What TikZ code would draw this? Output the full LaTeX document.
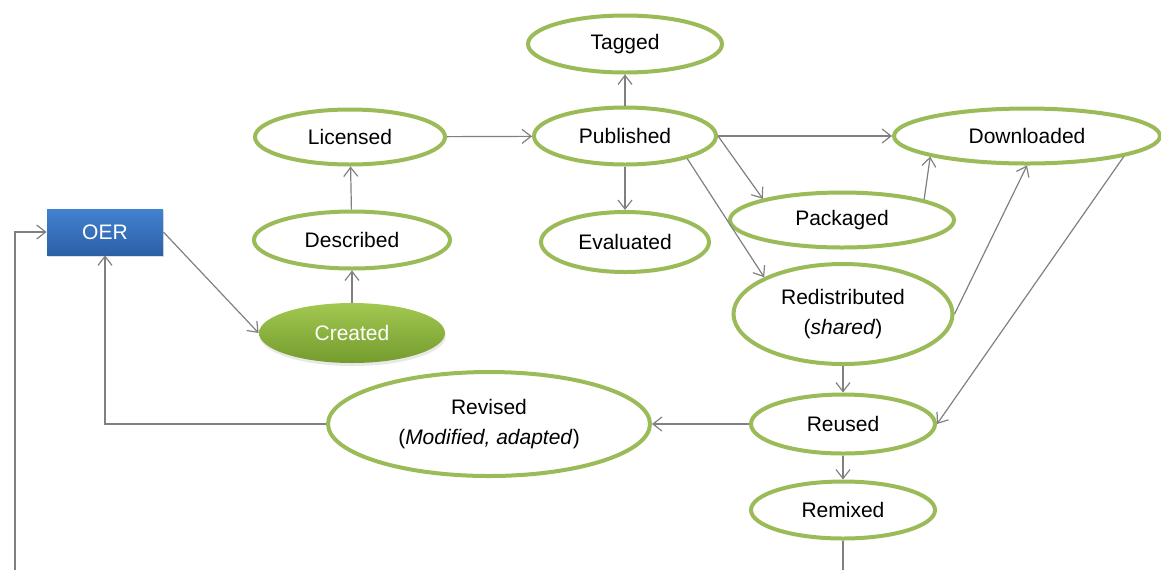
\documentclass[tikz,border=0pt]{standalone}
\usepackage{xcolor}
\usepackage{fontspec}
\setmainfont{Liberation Sans}
\usepackage{tikz}
\usetikzlibrary{shapes.geometric,arrows.meta,shadows}

\definecolor{stategreen}{RGB}{155,187,89}
\definecolor{linkgray}{RGB}{128,128,128}
\definecolor{oerblue}{RGB}{66,130,208}
\definecolor{oerbluedark}{RGB}{44,96,166}
\definecolor{createdtop}{RGB}{162,200,80}
\definecolor{createdbot}{RGB}{116,156,46}

\begin{document}
\begin{tikzpicture}[x=0.5pt,y=-0.5pt,
    every node/.style={font=\fontsize{10.5}{15.5}\selectfont, align=center},
    state/.style={ellipse, draw=stategreen, line width=2pt, fill=white, inner sep=0pt},
    link/.style={draw=linkgray, line width=0.6pt, -{Straight Barb[length=4.5pt,width=7pt]}}]
  \useasboundingbox (0,0) rectangle (1161,569);

  % start box
  \node[rectangle, top color=oerblue, bottom color=oerbluedark, text=white,
        minimum width=58pt, minimum height=23pt,
        drop shadow={opacity=0.25, shadow xshift=0.6pt, shadow yshift=-1.2pt}]
        (oer) at (105,232) {OER};

  % states
  \node[ellipse, inner sep=0pt, top color=createdtop, bottom color=createdbot, text=white,
        minimum width=93pt, minimum height=30pt,
        drop shadow={opacity=0.18, shadow xshift=0.4pt, shadow yshift=-1.5pt}]
        (created) at (352,333) {Created};
  \node[state, minimum width=98pt,  minimum height=28.5pt] (described)  at (352,240)  {Described};
  \node[state, minimum width=95pt,  minimum height=27.5pt] (licensed)   at (350,137)  {Licensed};
  \node[state, minimum width=91pt,  minimum height=28.5pt] (published)  at (625,136)  {Published};
  \node[state, minimum width=97pt,  minimum height=28.5pt] (tagged)     at (625,44)   {Tagged};
  \node[state, minimum width=84pt,  minimum height=30pt]   (evaluated)  at (625,242)  {Evaluated};
  \node[state, minimum width=133pt, minimum height=27.5pt] (downloaded) at (1027,136) {Downloaded};
  \node[state, minimum width=112pt, minimum height=27.5pt] (packaged)   at (842,220)  {Packaged};
  \node[state, minimum width=109.5pt, minimum height=50pt] (redist)     at (843,314)  {\raisebox{-2.75pt}{\shortstack{Redistributed\\[4.5pt](\textit{shared})}}};
  \node[state, minimum width=92pt,  minimum height=29.5pt] (reused)     at (843,424)  {Reused};
  \node[state, minimum width=92pt,  minimum height=28.5pt] (remixed)    at (843,510)  {Remixed};
  \node[state, minimum width=161pt, minimum height=52pt]   (revised)    at (489,424)  {\raisebox{-2.75pt}{\shortstack{Revised\\[4.5pt](\textit{Modified, adapted})}}};

  % connectors
  \draw[link] (oer.east) -- (created.west);
  \draw[link] (created) -- (described);
  \draw[link] (described) -- (licensed);
  \draw[link] (licensed) -- (published);
  \draw[link] (published) -- (tagged);
  \draw[link] (published) -- (evaluated);
  \draw[link] (published.east) -- (downloaded.west);
  \draw[link] (published.east) -- (packaged.165);
  \draw[link] (published.340) -- (redist.155);
  \draw[link] (packaged.14) -- (downloaded.192);
  \draw[link] (redist.east) -- (downloaded.south);
  \draw[link] (downloaded.-12) -- (reused.east);
  \draw[link] (redist) -- (reused);
  \draw[link] (reused) -- (remixed);
  \draw[link] (reused.west) -- (revised.east);
  \draw[link] (revised.west) -| (oer.south);

  % loop back to the start, running below the page edge
  \coordinate (back) at (15,600);
  \draw[link] (remixed.south) |- (back) |- (oer.west);
\end{tikzpicture}
\end{document}
